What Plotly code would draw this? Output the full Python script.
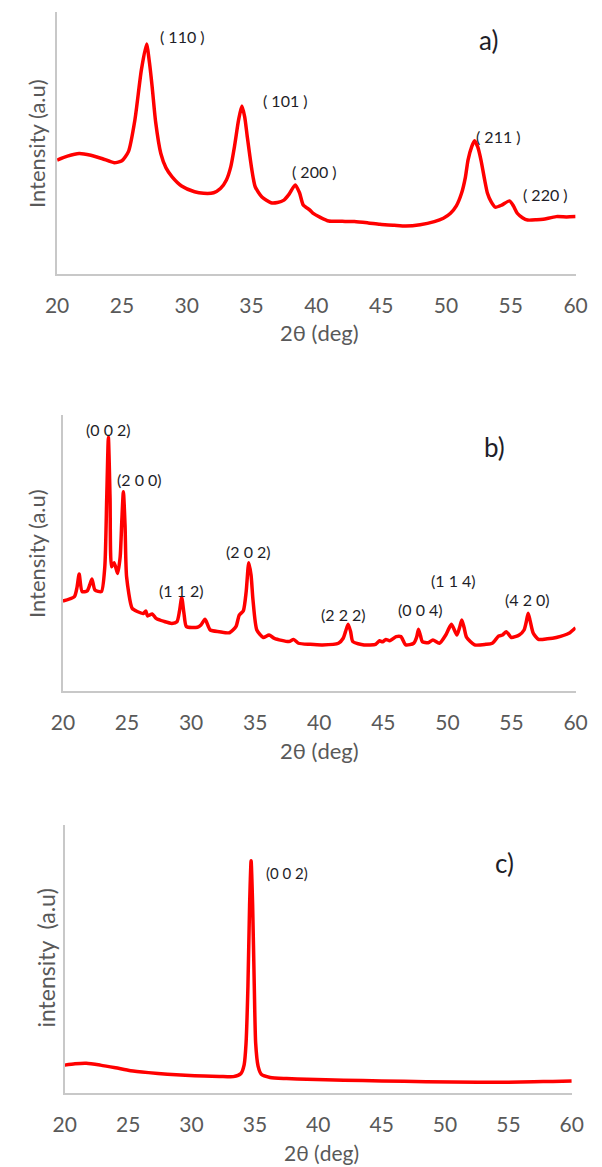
import plotly.graph_objects as go

# ---------------- data ----------------
# Panel a)
a_theta = [20.0, 20.8, 21.7, 22.6, 23.5, 24.4, 25.0, 25.5, 26.0, 26.5, 26.9, 27.13, 27.33,
           27.6, 28.0, 28.4, 28.87, 29.6, 30.6, 31.3, 32.07, 32.6, 33.06, 33.4, 33.68, 34.0,
           34.25, 34.47, 34.67, 35.0, 35.28, 35.8, 36.5, 37.0, 37.5, 37.9, 38.37, 38.7,
           38.99, 39.5, 39.73, 40.3, 40.96, 42.0, 42.94, 44.0, 44.9, 46.0, 46.9, 48.0,
           49.1, 49.8, 50.35, 50.8, 51.2, 51.5, 51.7, 52.0, 52.2, 52.45, 52.7, 53.0, 53.2,
           53.5, 53.8, 54.3, 54.9, 55.2, 55.5, 55.9, 56.3, 57.0, 57.5, 58.5, 59.3, 60.0]
a_int = [43.5, 45.0, 46.0, 45.3, 44.0, 42.5, 43.2, 46.7, 58.8, 77.9, 87.8, 80.4, 71.5,
         58.0, 46.0, 40.5, 37.1, 33.6, 31.4, 30.8, 31.0, 32.6, 35.9, 41.0, 48.6, 58.8,
         64.1, 60.0, 52.4, 40.5, 33.3, 29.4, 27.2, 27.3, 28.2, 30.5, 34.0, 31.0,
         26.3, 24.4, 23.2, 21.6, 20.2, 20.1, 20.0, 19.5, 19.0, 18.6, 18.3, 18.8,
         20.0, 21.3, 23.2, 26.0, 30.8, 37.0, 43.5, 48.8, 50.9, 48.5, 43.5, 35.5, 30.8,
         27.4, 25.5, 26.3, 27.9, 26.0, 23.2, 21.5, 20.6, 20.7, 20.9, 21.9, 21.8, 21.9]

# Panel b)
b_theta = [20.0, 20.9, 21.1, 21.27, 21.5, 21.9, 22.1, 22.27, 22.5, 23.0, 23.27, 23.42, 23.55,
           23.68, 23.8, 24.0, 24.27, 24.47, 24.6, 24.72, 24.85, 24.97, 25.4, 25.8, 26.27,
           26.47, 26.6, 26.97, 27.27, 27.9, 28.5, 28.9, 29.1, 29.27, 29.45, 29.64, 30.5,
           30.77, 31.09, 31.5, 32.2, 33.0, 33.5, 33.76, 34.08, 34.3, 34.5, 34.68, 34.83,
           35.13, 35.63, 36.08, 36.5, 37.63, 38.0, 38.38, 39.3, 40.25, 41.5, 41.87, 42.05,
           42.25, 42.45, 42.62, 43.5, 44.4, 44.7, 44.94, 45.2, 45.5, 46.0, 46.37, 46.75,
           47.37, 47.6, 47.74, 47.9, 48.04, 48.5, 48.87, 49.37, 49.87, 50.1, 50.32, 50.74,
           50.95, 51.12, 51.3, 51.5, 52.12, 53.0, 53.5, 54.0, 54.3, 54.6, 54.98, 55.6, 55.98,
           56.15, 56.3, 56.45, 56.7, 57.1, 57.8, 58.5, 59.48, 60.0]
b_int = [32.6, 34.2, 37.5, 42.4, 36.0, 36.3, 38.5, 40.6, 36.6, 36.0, 45.0, 70.0, 91.9,
         70.0, 45.0, 46.5, 42.6, 48.7, 62.0, 72.2, 60.0, 41.4, 30.0, 28.8, 28.1,
         29.0, 27.2, 27.9, 26.3, 25.2, 24.5, 25.1, 29.0, 33.9, 28.0, 23.3, 23.1,
         23.9, 26.0, 22.1, 21.5, 21.1, 23.3, 27.5, 29.1, 36.0, 46.5, 42.0, 33.0,
         22.1, 19.4, 20.3, 19.1, 17.9, 18.7, 17.3, 16.9, 16.7, 17.3, 19.1, 21.5,
         24.2, 21.5, 17.9, 16.7, 16.9, 18.2, 17.8, 18.7, 18.2, 19.7, 19.7, 16.7,
         17.3, 19.5, 22.4, 20.0, 17.9, 17.5, 18.5, 17.3, 20.3, 22.5, 24.2, 20.3,
         23.0, 25.7, 23.0, 19.4, 16.7, 16.9, 17.3, 19.9, 20.3, 21.5, 19.4, 20.3, 22.1,
         25.0, 28.2, 25.5, 20.9, 18.7, 18.9, 19.4, 20.9, 22.9]

# Panel c)
c_theta = [20.0, 20.8, 21.7, 22.8, 24.0, 25.2, 26.6, 28.1, 29.5, 31.0, 32.2, 33.3, 33.9,
           34.15, 34.3, 34.45, 34.58, 34.7, 34.82, 34.95, 35.06, 35.25, 35.5, 36.2, 37.5,
           39.1, 42.0, 45.0, 48.5, 52.6, 55.0, 57.0, 58.5, 60.0]
c_int = [10.4, 10.9, 11.1, 10.4, 9.4, 8.3, 7.6, 7.0, 6.6, 6.3, 6.2, 6.1, 7.3,
         10.5, 18.5, 40.0, 70.0, 86.7, 70.0, 40.0, 18.5, 10.0, 7.0, 5.8, 5.4,
         5.1, 4.8, 4.5, 4.2, 4.0, 4.0, 4.2, 4.3, 4.5]

tick_values = [20, 25, 30, 35, 40, 45, 50, 55, 60]
tick_labels = ["20", "25", "30", "35", "40", "45", "50", "55", "60"]

a_peak_labels = ["( 110 )", "( 101 )", "( 200 )", "( 211 )", "( 220 )"]
b_peak_labels = ["(0 0 2)", "(2 0 0)", "(1 1 2)", "(2 0 2)", "(2 2 2)", "(0 0 4)", "(1 1 4)", "(4 2 0)"]
c_peak_labels = ["(0 0 2)"]
panel_letters = ["a)", "b)", "c)"]
y_titles = ["Intensity (a.u)", "Intensity (a.u)", "intensity  (a.u)"]
x_title = "2θ (deg)"

# ---------------- layout helpers ----------------
W, H = 602, 1167
def xd(p0, p1):
    return [p0 / W, p1 / W]
def yd(p_top, p_bot):
    return [1 - p_bot / H, 1 - p_top / H]

RED = "#FF0000"
GREY_TXT = "#595959"
AXIS_LINE = "#C8C8C8"
FONT = "Lato"

fig = go.Figure()
fig.add_trace(go.Scatter(x=a_theta, y=a_int, mode="lines", xaxis="x", yaxis="y",
                         line=dict(color=RED, width=3.5, shape="spline", smoothing=0.6)))
fig.add_trace(go.Scatter(x=b_theta, y=b_int, mode="lines", xaxis="x2", yaxis="y2",
                         line=dict(color=RED, width=3.5, shape="spline", smoothing=0.6)))
fig.add_trace(go.Scatter(x=c_theta, y=c_int, mode="lines", xaxis="x3", yaxis="y3",
                         line=dict(color=RED, width=3.5, shape="spline", smoothing=0.6)))

def xaxis(domain, anchor):
    return dict(domain=domain, anchor=anchor, range=[20, 60], tickvals=tick_values,
                ticktext=tick_labels, showgrid=False, zeroline=False, showline=True,
                linecolor=AXIS_LINE, linewidth=1.5, ticks="", ticklabelstandoff=12,
                tickfont=dict(family=FONT, size=21, color=GREY_TXT), fixedrange=True)

def yaxis(domain, anchor):
    return dict(domain=domain, anchor=anchor, range=[0, 100], showgrid=False,
                zeroline=False, showline=True, linecolor=AXIS_LINE, linewidth=1.5,
                showticklabels=False, ticks="", fixedrange=True)

fig.update_layout(
    width=W, height=H, margin=dict(l=0, r=0, t=0, b=0),
    paper_bgcolor="white", plot_bgcolor="white", showlegend=False,
    xaxis=xaxis(xd(47, 587), "y"), yaxis=yaxis(yd(12, 274), "x"),
    xaxis2=xaxis(xd(53, 587), "y2"), yaxis2=yaxis(yd(415, 691), "x2"),
    xaxis3=xaxis(xd(55, 583), "y3"), yaxis3=yaxis(yd(825, 1093), "x3"),
)

ann = []
LBL = "#1E1E28"
# peak labels: (text, x-data, y-data)
a_pos = [(29.7, 90.5), (37.6, 66.1), (39.85, 39.0), (54.05, 52.4), (57.7, 30.2)]
for t, (xx, yy) in zip(a_peak_labels, a_pos):
    ann.append(dict(x=xx, y=yy, xref="x", yref="y", text=t, showarrow=False,
                    font=dict(family=FONT, size=16, color=LBL)))
b_pos = [(23.57, 94.8), (26.0, 76.7), (29.27, 36.3), (34.5, 50.5), (41.93, 27.9),
         (47.87, 29.6), (50.49, 40.0), (56.28, 33.2)]
for t, (xx, yy) in zip(b_peak_labels, b_pos):
    ann.append(dict(x=xx, y=yy, xref="x2", yref="y2", text=t, showarrow=False,
                    font=dict(family=FONT, size=16, color=LBL)))
c_pos = [(37.5, 82.2)]
for t, (xx, yy) in zip(c_peak_labels, c_pos):
    ann.append(dict(x=xx, y=yy, xref="x3", yref="y3", text=t, showarrow=False,
                    font=dict(family=FONT, size=15, color=LBL)))

# panel letters
letter_pos = [(53.3, 89.5, "x", "y"), (53.7, 88.5, "x2", "y2"), (54.7, 85.7, "x3", "y3")]
for t, (xx, yy, xr, yr) in zip(panel_letters, letter_pos):
    ann.append(dict(x=xx, y=yy, xref=xr, yref=yr, text=t, showarrow=False,
                    font=dict(family=FONT, size=26, color=LBL)))

# y titles (rotated)
ytitle_pos = [(25, 144, 22), (25, 554, 22), (35, 958, 23)]
for t, (px, py, fs) in zip(y_titles, ytitle_pos):
    ann.append(dict(x=px / W, y=1 - py / H, xref="paper", yref="paper", text=t,
                    showarrow=False, textangle=-90, xanchor="center", yanchor="middle",
                    font=dict(family=FONT, size=fs, color=GREY_TXT)))

# x titles
for px, py in [(320, 332), (320, 750)]:
    ann.append(dict(x=px / W, y=1 - py / H, xref="paper", yref="paper", text=x_title,
                    showarrow=False, xanchor="center", yanchor="middle",
                    font=dict(family=FONT, size=22, color=GREY_TXT)))
ann.append(dict(x=322 / W, y=1 - 1166 / H, xref="paper", yref="paper", text=x_title,
                showarrow=False, xanchor="center", yanchor="bottom", borderpad=0,
                font=dict(family=FONT, size=21, color=GREY_TXT)))

fig.update_layout(annotations=ann)
fig.write_html("out.html", config={"displayModeBar": False},
               post_script="document.body.style.margin='0';document.body.style.overflow='hidden';")
